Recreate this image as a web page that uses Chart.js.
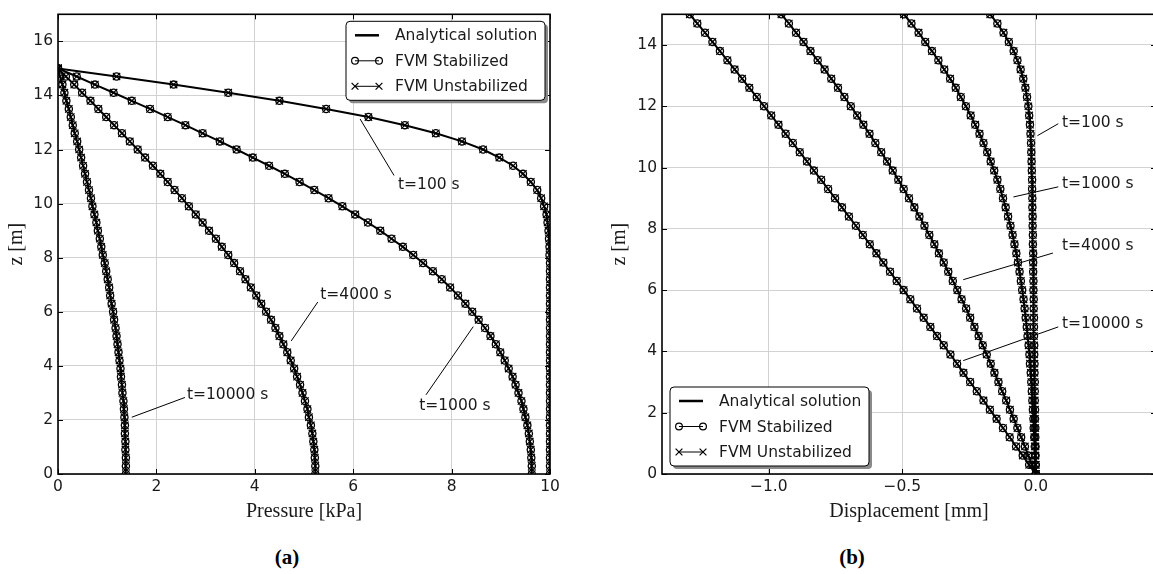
<!DOCTYPE html>
<html>
<head>
<meta charset="utf-8">
<title>Consolidation: pressure and displacement profiles</title>
<script src="https://cdn.jsdelivr.net/npm/chart.js@4.4.1/dist/chart.umd.min.js"></script>
<style>
  html, body { margin: 0; padding: 0; background: #fff; }
  body { position: relative; width: 1153px; height: 574px; overflow: hidden; }
  canvas { position: absolute; top: 0; }
  #pressureChart { left: 0; }
  #dispChart { left: 580px; }
  .panel { position: absolute; top: 545px; width: 60px; text-align: center; line-height: 26px;
           font: bold 21px "Liberation Serif", "Times New Roman", serif; color: #000; }
</style>
</head>
<body>
<canvas id="pressureChart" width="580" height="530"></canvas>
<canvas id="dispChart" width="600" height="530"></canvas>
<div class="panel" style="left:257px">(a)</div>
<div class="panel" style="left:822px">(b)</div>
<script>
// depth of the sample points, top (15 m) down to the bottom (0 m)
var zValues = [15.0, 14.7, 14.4, 14.1, 13.8, 13.5, 13.2, 12.9, 12.6, 12.3, 12.0, 11.7, 11.4, 11.1, 10.8, 10.5, 10.2,
  9.9, 9.6, 9.3, 9.0, 8.7, 8.4, 8.1, 7.8, 7.5, 7.2, 6.9, 6.6, 6.3, 6.0, 5.7, 5.4, 5.1, 4.8, 4.5, 4.2, 3.9, 3.6,
  3.3, 3.0, 2.7, 2.4, 2.1, 1.8, 1.5, 1.2, 0.9, 0.6, 0.3, 0.0];

var legendLabels = ['Analytical solution', 'FVM Stabilized', 'FVM Unstabilized'];

// pore pressure [kPa] at each depth
var p100 = [0, 1.19, 2.35, 3.46, 4.50, 5.45, 6.31, 7.05, 7.68, 8.21, 8.64, 8.97, 9.25, 9.45, 9.61, 9.74, 9.82,
  9.88, 9.93, 9.95, 9.97, 9.98, 9.99, 9.99, 10, 10, 10, 10, 10, 10, 10, 10, 10, 10, 10, 10, 10, 10, 10,
  10, 10, 10, 10, 10, 10, 10, 10, 10, 10, 10, 10];
var p1000 = [0, 0.38, 0.75, 1.13, 1.50, 1.87, 2.23, 2.59, 2.94, 3.29, 3.63, 3.96, 4.29, 4.61, 4.91, 5.21, 5.50,
  5.78, 6.04, 6.30, 6.55, 6.78, 7.01, 7.22, 7.42, 7.62, 7.80, 7.97, 8.13, 8.28, 8.42, 8.55, 8.68, 8.79, 8.90, 8.99, 9.08, 9.16, 9.24,
  9.30, 9.36, 9.42, 9.46, 9.50, 9.54, 9.57, 9.59, 9.61, 9.62, 9.63, 9.63];
var p4000 = [0, 0.16, 0.33, 0.49, 0.66, 0.82, 0.98, 1.14, 1.30, 1.46, 1.62, 1.77, 1.93, 2.08, 2.23, 2.37, 2.52,
  2.66, 2.80, 2.94, 3.07, 3.21, 3.33, 3.46, 3.58, 3.70, 3.81, 3.92, 4.03, 4.13, 4.23, 4.33, 4.42, 4.50, 4.58, 4.66, 4.73, 4.80, 4.86,
  4.92, 4.97, 5.02, 5.07, 5.10, 5.14, 5.17, 5.19, 5.21, 5.22, 5.23, 5.23];
var p10000 = [0, 0.04, 0.09, 0.13, 0.17, 0.22, 0.26, 0.30, 0.34, 0.39, 0.43, 0.47, 0.51, 0.55, 0.59, 0.63, 0.67,
  0.70, 0.74, 0.78, 0.81, 0.85, 0.88, 0.91, 0.95, 0.98, 1.01, 1.04, 1.06, 1.09, 1.12, 1.14, 1.17, 1.19, 1.21, 1.23, 1.25, 1.27, 1.28,
  1.30, 1.31, 1.33, 1.34, 1.35, 1.36, 1.36, 1.37, 1.37, 1.38, 1.38, 1.38];

// vertical displacement [mm] at each depth
var u100 = [-0.171, -0.144, -0.121, -0.101, -0.083, -0.069, -0.057, -0.047, -0.039, -0.033, -0.028, -0.025, -0.022,
  -0.020, -0.018, -0.017, -0.016, -0.015, -0.014, -0.014, -0.013, -0.013, -0.012, -0.012, -0.011, -0.011, -0.010,
  -0.010, -0.010, -0.009, -0.009, -0.008, -0.008, -0.007, -0.007, -0.007, -0.006, -0.006, -0.005, -0.005, -0.004,
  -0.004, -0.004, -0.003, -0.003, -0.002, -0.002, -0.001, -0.001, 0, 0];
var u1000 = [-0.494, -0.466, -0.439, -0.414, -0.389, -0.365, -0.343, -0.321, -0.300, -0.281, -0.262, -0.244, -0.227,
  -0.211, -0.196, -0.182, -0.169, -0.156, -0.144, -0.133, -0.123, -0.113, -0.104, -0.095, -0.087, -0.080, -0.073,
  -0.067, -0.061, -0.056, -0.051, -0.046, -0.042, -0.038, -0.034, -0.031, -0.027, -0.024, -0.022, -0.019, -0.017,
  -0.015, -0.013, -0.011, -0.009, -0.008, -0.006, -0.004, -0.003, -0.001, 0];
var u4000 = [-0.953, -0.925, -0.898, -0.870, -0.844, -0.817, -0.791, -0.766, -0.741, -0.717, -0.693, -0.669, -0.646,
  -0.623, -0.601, -0.579, -0.557, -0.536, -0.515, -0.495, -0.475, -0.455, -0.436, -0.417, -0.399, -0.380, -0.363,
  -0.345, -0.328, -0.311, -0.294, -0.278, -0.261, -0.246, -0.230, -0.214, -0.199, -0.184, -0.169, -0.155, -0.140,
  -0.126, -0.111, -0.097, -0.083, -0.069, -0.055, -0.041, -0.028, -0.014, 0];
var u10000 = [-1.296, -1.268, -1.239, -1.211, -1.183, -1.155, -1.128, -1.100, -1.073, -1.045, -1.018, -0.991, -0.964,
  -0.937, -0.910, -0.884, -0.857, -0.831, -0.804, -0.778, -0.752, -0.726, -0.700, -0.674, -0.648, -0.622, -0.597,
  -0.571, -0.546, -0.521, -0.495, -0.470, -0.445, -0.420, -0.395, -0.370, -0.345, -0.320, -0.295, -0.271, -0.246,
  -0.221, -0.196, -0.172, -0.147, -0.123, -0.098, -0.074, -0.049, -0.025, 0];

// tick labels
var pressureTicks = [0, 2, 4, 6, 8, 10];
var depthTicksA = [0, 2, 4, 6, 8, 10, 12, 14, 16];
var dispTicks = [-1.0, -0.5, 0.0];
var depthTicksB = [0, 2, 4, 6, 8, 10, 12, 14];

// time labels with their leader lines (data units of each panel)
var notesPressure = [
  {text: 't=100 s',   at: [6.91, 10.68], from: [6.83, 11.04], to: [6.14, 13.13]},
  {text: 't=4000 s',  at: [5.33, 6.62],  from: [5.28, 6.36],  to: [4.74, 4.92]},
  {text: 't=1000 s',  at: [7.34, 2.52],  from: [7.48, 2.93],  to: [8.44, 5.45]},
  {text: 't=10000 s', at: [2.62, 2.93],  from: [2.58, 2.83],  to: [1.50, 2.10]}
];
var notesDisp = [
  {text: 't=100 s',   at: [0.098, 11.46], from: [0.084, 11.43], to: [0.006, 11.04]},
  {text: 't=1000 s',  at: [0.098, 9.46],  from: [0.084, 9.37],  to: [-0.084, 9.04]},
  {text: 't=4000 s',  at: [0.098, 7.43],  from: [0.064, 7.21],  to: [-0.272, 6.34]},
  {text: 't=10000 s', at: [0.098, 4.90],  from: [0.084, 4.80],  to: [-0.272, 3.70]}
];

var ink = '#1a1a1a';
var gridColor = '#d2d2d2';
var labelFont = '15.5px "DejaVu Sans", sans-serif';
var titleFont = {family: '"Liberation Serif", "Times New Roman", serif', size: 20};

Chart.defaults.font.family = '"DejaVu Sans", sans-serif';
Chart.defaults.font.size = 15.5;
Chart.defaults.color = ink;

function points(xs) {
  return zValues.map(function (z, i) { return {x: xs[i], y: z}; });
}

function curveSets(curves) {
  var sets = [];
  curves.forEach(function (xs) {
    var pts = points(xs);
    sets.push({label: legendLabels[0], data: pts, showLine: true, borderColor: '#000', borderWidth: 2,
      pointRadius: 0, order: 2});
    sets.push({label: legendLabels[1], data: pts, showLine: false, pointStyle: 'circle', pointRadius: 3.6,
      pointBorderWidth: 1.3, pointBorderColor: '#000', pointBackgroundColor: 'rgba(0,0,0,0)', order: 1});
    sets.push({label: legendLabels[2], data: pts, showLine: false, pointStyle: 'crossRot', pointRadius: 5.2,
      pointBorderWidth: 1.2, pointBorderColor: '#000', pointBackgroundColor: 'rgba(0,0,0,0)', order: 0});
  });
  return sets;
}

function marker(ctx, style, x, y) {
  ctx.beginPath();
  if (style === 'circle') {
    ctx.arc(x, y, 3.4, 0, Math.PI * 2);
  } else if (style === 'cross') {
    ctx.moveTo(x - 3.4, y - 3.4); ctx.lineTo(x + 3.4, y + 3.4);
    ctx.moveTo(x - 3.4, y + 3.4); ctx.lineTo(x + 3.4, y - 3.4);
  }
  ctx.stroke();
}

function drawLegend(ctx, bx, by) {
  var w = 199, h = 79;
  ctx.fillStyle = '#8a8a8a';
  ctx.beginPath(); ctx.roundRect(bx + 3, by + 3, w, h, 4); ctx.fill();
  ctx.fillStyle = '#fff';
  ctx.beginPath(); ctx.roundRect(bx, by, w, h, 4); ctx.fill();
  ctx.strokeStyle = '#000'; ctx.lineWidth = 1; ctx.stroke();
  legendLabels.forEach(function (label, i) {
    var y = by + 14 + i * 25.5;
    ctx.strokeStyle = '#000';
    ctx.lineWidth = i === 0 ? 2.5 : 1;
    ctx.beginPath(); ctx.moveTo(bx + 9, y); ctx.lineTo(bx + 33, y); ctx.stroke();
    ctx.lineWidth = 1.2;
    if (i === 1) { marker(ctx, 'circle', bx + 9, y); marker(ctx, 'circle', bx + 33, y); }
    if (i === 2) { marker(ctx, 'cross', bx + 9, y); marker(ctx, 'cross', bx + 33, y); }
    ctx.fillStyle = ink;
    ctx.font = labelFont;
    ctx.textAlign = 'left'; ctx.textBaseline = 'middle';
    ctx.fillText(label, bx + 49, y + 1);
  });
}

// spines, inward tick marks, time labels and legend box
var decor = {
  id: 'decor',
  afterDatasetsDraw: function (chart, args, opts) {
    var ctx = chart.ctx, a = chart.chartArea, xs = chart.scales.x, ys = chart.scales.y;
    ctx.save();
    ctx.strokeStyle = '#000';
    ctx.lineWidth = 1;
    ctx.beginPath();
    xs.ticks.forEach(function (t) {
      var px = Math.round(xs.getPixelForValue(t.value)) + 0.5;
      ctx.moveTo(px, a.bottom); ctx.lineTo(px, a.bottom - 5);
      ctx.moveTo(px, a.top); ctx.lineTo(px, a.top + 5);
    });
    ys.ticks.forEach(function (t) {
      var py = Math.round(ys.getPixelForValue(t.value)) + 0.5;
      ctx.moveTo(a.left, py); ctx.lineTo(a.left + 5, py);
      ctx.moveTo(a.right, py); ctx.lineTo(a.right - 5, py);
    });
    ctx.stroke();
    ctx.lineWidth = 1.6;
    ctx.strokeRect(a.left, a.top, a.right - a.left, a.bottom - a.top);

    ctx.lineWidth = 1;
    ctx.fillStyle = ink;
    ctx.font = labelFont;
    ctx.textAlign = 'left'; ctx.textBaseline = 'middle';
    opts.notes.forEach(function (n) {
      ctx.beginPath();
      ctx.moveTo(xs.getPixelForValue(n.from[0]), ys.getPixelForValue(n.from[1]));
      ctx.lineTo(xs.getPixelForValue(n.to[0]), ys.getPixelForValue(n.to[1]));
      ctx.stroke();
      ctx.fillText(n.text, xs.getPixelForValue(n.at[0]), ys.getPixelForValue(n.at[1]));
    });

    if (opts.legendCorner === 'topRight') drawLegend(ctx, a.right - 5 - 199, a.top + 7);
    else drawLegend(ctx, a.left + 8, a.bottom - 8 - 79);
    ctx.restore();
  }
};

function axis(min, max, tickList, fmt, title, size, horizontal, titlePad) {
  return {
    type: 'linear', min: min, max: max,
    afterBuildTicks: function (s) { s.ticks = tickList.map(function (v) { return {value: v}; }); },
    afterFit: function (s) { if (horizontal) s.height = size; else s.width = size; },
    grid: {color: gridColor, lineWidth: 1, drawTicks: false},
    border: {display: false},
    ticks: {padding: horizontal ? 4 : 5, maxRotation: 0, color: ink, callback: fmt},
    title: {display: true, text: title, font: titleFont, color: ink, padding: titlePad}
  };
}

function plain(v) { return String(v); }
function signed(v) { return (v < 0 ? '\u2212' : '') + Math.abs(v).toFixed(1); }

function baseOptions(padRight, scales, notes, corner) {
  return {
    responsive: false, animation: false, events: [],
    layout: {padding: {top: 9, right: padRight, left: 0, bottom: 0}},
    scales: scales,
    plugins: {legend: {display: false}, tooltip: {enabled: false},
      decor: {notes: notes, legendCorner: corner}}
  };
}

new Chart(document.getElementById('pressureChart').getContext('2d'), {
  type: 'scatter',
  data: {datasets: curveSets([p100, p1000, p4000, p10000])},
  options: baseOptions(30, {
    x: axis(0, 10, pressureTicks, plain, 'Pressure [kPa]', 56, true, {top: 0, bottom: 6}),
    y: axis(0, 17, depthTicksA, plain, 'z [m]', 58, false, {top: 5, bottom: 0})
  }, notesPressure, 'topRight'),
  plugins: [decor]
});

new Chart(document.getElementById('dispChart').getContext('2d'), {
  type: 'scatter',
  data: {datasets: curveSets([u100, u1000, u4000, u10000])},
  options: baseOptions(24, {
    x: axis(-1.4, 0.45, dispTicks, signed, 'Displacement [mm]', 56, true, {top: 0, bottom: 6}),
    y: axis(0, 15, depthTicksB, plain, 'z [m]', 82, false, {top: 28, bottom: 0})
  }, notesDisp, 'bottomLeft'),
  plugins: [decor]
});
</script>
</body>
</html>
